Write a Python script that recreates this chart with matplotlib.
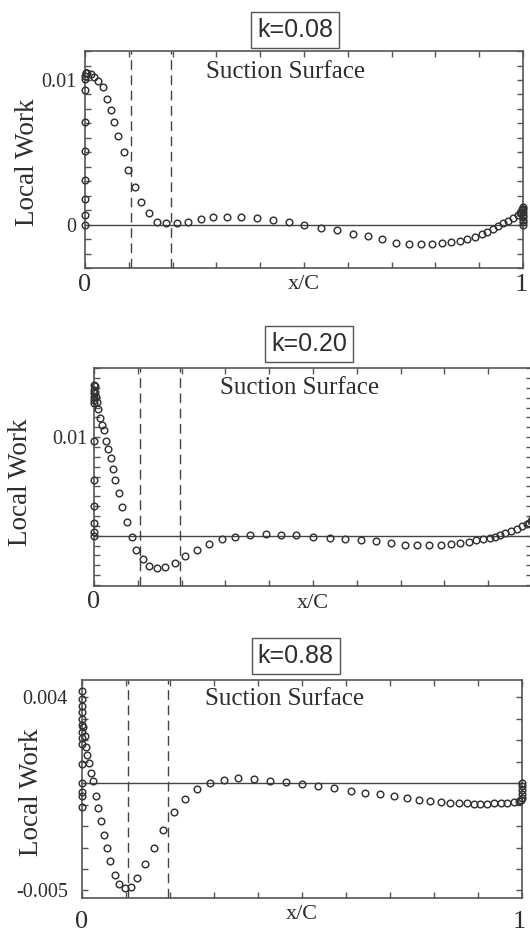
import numpy as np
import matplotlib
matplotlib.use("Agg")
import matplotlib.pyplot as plt
from matplotlib.ticker import MultipleLocator

# ---- local work along the suction surface, three reduced frequencies ----

k_labels = ["k=0.08", "k=0.20", "k=0.88"]

# k = 0.08
xc_k1 = [0.0, 0.0, 0.0, 0.0, 0.0, 0.0, 0.0, 0.0, 0.001, 0.002, 0.003,
         0.005, 0.013, 0.021, 0.030, 0.040, 0.050, 0.059, 0.067, 0.076, 0.088,
         0.098, 0.113, 0.128, 0.147, 0.165, 0.186, 0.209, 0.236, 0.264, 0.293,
         0.324, 0.357, 0.392, 0.429, 0.465, 0.501, 0.539, 0.576, 0.611, 0.647,
         0.677, 0.710, 0.739, 0.766, 0.793, 0.816, 0.836, 0.856, 0.873, 0.890,
         0.906, 0.918, 0.931, 0.942, 0.954, 0.965, 0.977, 0.988, 0.993, 0.996,
         0.998, 1.0, 1.0, 1.0, 1.0, 1.0, 1.0, 1.0, 0.999, 0.997]
lw_k1 = [0.0, 0.0007, 0.00175, 0.0031, 0.0051, 0.0071, 0.0093, 0.0101, 0.0103, 0.0105, 0.0105,
         0.0105, 0.0104, 0.0102, 0.0099, 0.0095, 0.0087, 0.0079, 0.0071, 0.0061, 0.0050,
         0.0038, 0.0026, 0.0016, 0.0008, 0.0002, 0.0001, 0.0001, 0.0002, 0.0004, 0.0005,
         0.00055, 0.00055, 0.00046, 0.00032, 0.00018, 0.0, -0.0002, -0.00037, -0.00062, -0.0008,
         -0.00097, -0.00124, -0.00131, -0.00134, -0.00134, -0.00129, -0.00122, -0.0011, -0.001, -0.00085,
         -0.00067, -0.00048, -0.00028, -0.00012, 0.0001, 0.00028, 0.00046, 0.00065, 0.00078, 0.0009,
         0.001, 0.0011, 0.0009, 0.0007, 0.0005, 0.0003, 0.00015, 0.0, 0.0012, 0.00105]

# k = 0.20
xc_k2 = [0.0, 0.0, 0.0, 0.0, 0.0, 0.0, 0.0, 0.0, 0.0, 0.0, 0.0, 0.0,
         0.002, 0.002, 0.004, 0.006, 0.009, 0.013, 0.018, 0.022, 0.027, 0.032,
         0.038, 0.043, 0.049, 0.057, 0.065, 0.075, 0.086, 0.096, 0.111, 0.126,
         0.144, 0.162, 0.184, 0.207, 0.234, 0.262, 0.292, 0.322, 0.355, 0.392,
         0.427, 0.462, 0.499, 0.538, 0.574, 0.609, 0.644, 0.678, 0.709, 0.738,
         0.765, 0.792, 0.815, 0.836, 0.855, 0.872, 0.889, 0.903, 0.915, 0.928,
         0.939, 0.952, 0.965, 0.976, 0.988, 0.994, 0.998, 1.0]
lw_k2 = [0.0153, 0.0148, 0.0145, 0.0141, 0.0138, 0.0135, 0.0096, 0.0057, 0.003, 0.0013, 0.0004, 0.0,
         0.0152, 0.0146, 0.0141, 0.0136, 0.0128, 0.0119, 0.0112, 0.0107, 0.0096, 0.0088,
         0.0079, 0.0068, 0.0057, 0.0043, 0.0029, 0.0014, -0.0001, -0.0014, -0.0024, -0.0031,
         -0.0033, -0.0032, -0.0028, -0.0021, -0.0014, -0.0008, -0.0003, -0.0001, 0.0001, 0.00014,
         0.00007, 0.00003, -0.0001, -0.0002, -0.0003, -0.00044, -0.00057, -0.00074, -0.00091, -0.00095,
         -0.00091, -0.00091, -0.00088, -0.00078, -0.00064, -0.00047, -0.00034, -0.00027, -0.0001, 0.0001,
         0.0003, 0.00047, 0.00071, 0.00095, 0.00115, 0.0013, 0.0015, 0.0017]

# k = 0.88
xc_k3 = [0.0, 0.0, 0.0, 0.0, 0.0, 0.0, 0.0, 0.0, 0.0, 0.0, 0.0, 0.0, 0.0, 0.0,
         0.004, 0.007, 0.010, 0.013, 0.017, 0.021, 0.025, 0.032, 0.037, 0.044,
         0.050, 0.058, 0.065, 0.075, 0.086, 0.098, 0.112, 0.127, 0.145, 0.165,
         0.185, 0.209, 0.234, 0.263, 0.292, 0.323, 0.356, 0.392, 0.427, 0.464,
         0.501, 0.538, 0.574, 0.611, 0.644, 0.678, 0.709, 0.740, 0.767, 0.792,
         0.815, 0.836, 0.856, 0.875, 0.892, 0.905, 0.921, 0.936, 0.952, 0.967,
         0.982, 0.994, 0.998, 1.0, 1.0, 1.0, 1.0, 1.0]
lw_k3 = [0.0043, 0.0039, 0.0036, 0.0033, 0.0030, 0.0027, 0.0024, 0.0021, 0.0018, 0.0009, 0.0, -0.0004, -0.0006, -0.0011,
         0.00263, 0.00217, 0.0017, 0.00132, 0.00093, 0.00046, 0.00008, -0.00062, -0.00116, -0.00178,
         -0.0024, -0.00303, -0.00365, -0.00426, -0.00472, -0.00488, -0.00483, -0.00441, -0.00379, -0.00302,
         -0.00217, -0.00135, -0.00074, -0.00029, 0.0, 0.00015, 0.00022, 0.00019, 0.00012, 0.00005,
         -0.00003, -0.00014, -0.00025, -0.00036, -0.00045, -0.00053, -0.00062, -0.0007, -0.00077, -0.00084,
         -0.00088, -0.00091, -0.00093, -0.00094, -0.00096, -0.00096, -0.00096, -0.00094, -0.00093, -0.00091,
         -0.0009, -0.00085, -0.0008, -0.0007, -0.0005, -0.0003, -0.00015, 0.0]

# y ranges and labelled y ticks for each panel
ylims = [(-0.003, 0.012), (-0.0051, 0.017), (-0.00535, 0.0048)]
yticks = [[0.0, 0.01], [0.01], [0.004, -0.005]]
ytick_text = [["0", "0.01"], ["0.01"], ["0.004", "-0.005"]]

# chordwise stations of the two dashed markers
dash_x = [0.105, 0.197]

SERIF = "Liberation Serif"
SANS = "Liberation Sans"
INK = "#2e2e2e"
EDGE = "#555555"


def draw_panel(ax, xs, ys, ylim, ticks, tick_text, label_pad, xlab_y, xnum_y, show_one):
    ax.set_xlim(0, 1)
    ax.set_ylim(*ylim)
    for s in ax.spines.values():
        s.set_color(EDGE)
        s.set_linewidth(1.2)

    ax.axhline(0, color="#444444", lw=1.0, zorder=1)
    for xd in dash_x:
        ax.axvline(xd, color="#444444", lw=1.0, ls=(0, (7, 4)), zorder=1)

    ax.plot(xs, ys, ls="none", marker="o", ms=4.8, mfc="none", mec="#333333",
            mew=1.05, clip_on=False, zorder=3)

    # ticks on all four sides, pointing in
    ax.xaxis.set_major_locator(MultipleLocator(0.1))
    ax.yaxis.set_minor_locator(MultipleLocator(0.001))
    ax.set_yticks(ticks)
    ax.set_yticklabels(tick_text, fontfamily=SERIF, fontsize=14.5, color=INK)
    ax.set_xticklabels([])
    ax.tick_params(which="both", direction="in", top=True, right=True,
                   length=4, width=1.0, color=EDGE)
    ax.tick_params(axis="y", which="major", pad=label_pad)

    # chord labels under the axis
    ax.text(0.0, xnum_y, "0", transform=ax.transAxes, ha="center", va="center",
            fontfamily=SERIF, fontsize=19, color=INK)
    if show_one:
        ax.text(0.995, xnum_y, "1", transform=ax.transAxes, ha="center", va="center",
                fontfamily=SERIF, fontsize=19, color=INK)
    ax.text(0.5, xlab_y, "x/C", transform=ax.transAxes, ha="center", va="center",
            fontfamily=SERIF, fontsize=16, color=INK)


def main():
    fig = plt.figure(figsize=(5.3, 9.32), dpi=100)

    ax1 = fig.add_axes([0.1604, 0.7124, 0.8264, 0.2328])
    ax2 = fig.add_axes([0.1774, 0.3712, 0.8264, 0.2339])
    ax3 = fig.add_axes([0.1538, 0.0365, 0.8311, 0.2339])

    draw_panel(ax1, xc_k1, lw_k1, ylims[0], yticks[0], ytick_text[0], 6, -0.074, -0.078, True)
    draw_panel(ax2, xc_k2, lw_k2, ylims[1], yticks[1], ytick_text[1], 5, -0.078, -0.073, False)
    draw_panel(ax3, xc_k3, lw_k3, ylims[2], yticks[2], ytick_text[2], 10, -0.078, -0.112, True)

    # frequency boxes above each panel
    box_pos = [(0.557, 0.968), (0.583, 0.631), (0.558, 0.296)]
    for (bx, by), lab in zip(box_pos, k_labels):
        fig.text(bx, by, lab, ha="center", va="center", fontfamily=SANS, fontsize=18,
                 color=INK, bbox=dict(boxstyle="square,pad=0.24", fc="white", ec=EDGE, lw=1.0))

    # surface annotation
    surf_pos = [(ax1, 0.459, 0.903), (ax2, 0.47, 0.908), (ax3, 0.462, 0.913)]
    for ax, sx, sy in surf_pos:
        ax.text(sx, sy, "Suction Surface", transform=ax.transAxes, ha="center", va="center",
                fontfamily=SERIF, fontsize=18, color=INK)

    # y axis titles
    ylab_pos = [(0.051, 0.826), (0.038, 0.483), (0.060, 0.150)]
    for lx, ly in ylab_pos:
        fig.text(lx, ly, "Local Work", rotation=90, ha="center", va="center",
                 fontfamily=SERIF, fontsize=19.5, color=INK)

    fig.savefig("out.png", dpi=100)


if __name__ == "__main__":
    main()
